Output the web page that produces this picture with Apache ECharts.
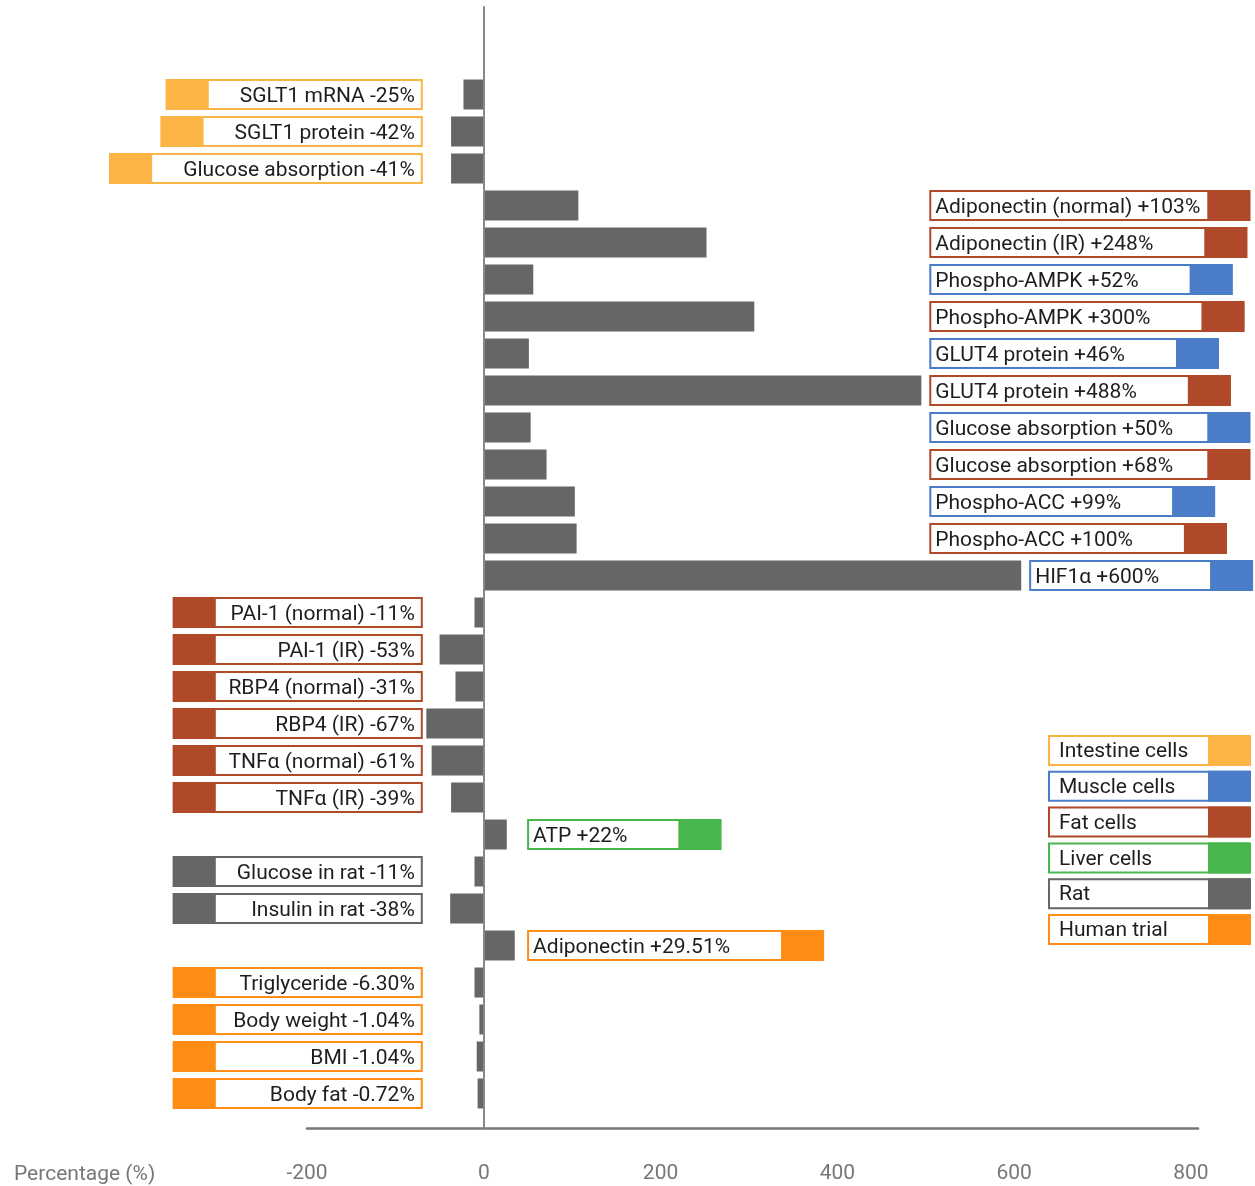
<!DOCTYPE html>
<html>
<head>
<meta charset="utf-8">
<script src="https://cdn.jsdelivr.net/npm/echarts@6/dist/echarts.min.js"></script>
<style>
  html, body { margin: 0; padding: 0; background: #fff; }
  #chart { width: 1255px; height: 1186px; }
</style>
</head>
<body>
<div id="chart"></div>
<script>
// row labels, top to bottom
var labels = [
  'SGLT1 mRNA -25%', 'SGLT1 protein -42%', 'Glucose absorption -41%',
  'Adiponectin (normal) +103%', 'Adiponectin (IR) +248%',
  'Phospho-AMPK +52%', 'Phospho-AMPK +300%',
  'GLUT4 protein +46%', 'GLUT4 protein +488%',
  'Glucose absorption +50%', 'Glucose absorption +68%',
  'Phospho-ACC +99%', 'Phospho-ACC +100%',
  'HIF1α +600%',
  'PAI-1 (normal) -11%', 'PAI-1 (IR) -53%',
  'RBP4 (normal) -31%', 'RBP4 (IR) -67%',
  'TNFα (normal) -61%', 'TNFα (IR) -39%',
  'ATP +22%',
  'Glucose in rat -11%', 'Insulin in rat -38%',
  'Adiponectin +29.51%',
  'Triglyceride -6.30%', 'Body weight -1.04%', 'BMI -1.04%', 'Body fat -0.72%'
]
// bar lengths as drawn in the picture
var barValues = [
  -23, -37, -37,
  107, 252,
  56, 306,
  51, 495,
  53, 71,
  103, 105,
  608,
  -10.5, -50,
  -32, -65,
  -59, -37,
  26,
  -10.5, -38,
  35,
  -10.5, -5, -8, -7
]
// 0 intestine, 1 muscle, 2 fat, 3 liver, 4 rat, 5 human
var groups = [
  0, 0, 0,
  2, 2, 1, 2, 1, 2, 1, 2, 1, 2, 1,
  2, 2, 2, 2, 2, 2,
  3,
  4, 4,
  5, 5, 5, 5, 5
]
var legendNames = ['Intestine cells', 'Muscle cells', 'Fat cells', 'Liver cells', 'Rat', 'Human trial']
var groupColors = ['#FDB446', '#4A7CC8', '#B0492A', '#48B64C', '#666666', '#FF8C14']
var xTicks = [-200, 0, 200, 400, 600, 800]

var FONT = '21px Roboto'
var ctx = document.createElement('canvas').getContext('2d')
ctx.font = FONT
function textW(t) { return ctx.measureText(t).width }

let myChart = echarts.init(document.getElementById('chart'))

function renderLabel(params, api) {
  var i = params.dataIndex
  var v = barValues[i]
  var g = groups[i]
  var color = groupColors[g]
  var text = labels[i]
  var cy = api.coord([0, i])[1]
  var h = 31
  var tw = textW(text)
  var left, width, sqX, tx, align
  if (v < 0) {
    // intestine boxes follow the text, the others keep one width
    width = g === 0 ? Math.max(250, tw + 82) : 250
    left = api.coord([-69, i])[0] - width
    sqX = left
    tx = left + width - 8
    align = 'right'
  } else {
    var anchor = (g === 3 || g === 5) ? 49 : Math.max(504, v + 9)
    width = Math.min(321, tw + 100)
    left = api.coord([anchor, i])[0]
    sqX = left + width - 43
    tx = left + 6
    align = 'left'
  }
  return {
    type: 'group',
    children: [
      {
        type: 'rect',
        shape: {x: left + 1, y: cy - h / 2 + 1, width: width - 2, height: h - 2},
        style: {fill: '#fff', stroke: color, lineWidth: 2}
      },
      {
        type: 'rect',
        shape: {x: sqX, y: cy - h / 2, width: 43, height: h},
        style: {fill: color}
      },
      {
        type: 'text',
        style: {
          x: tx, y: cy + 2, text: text, font: FONT, fill: '#1e1e1e',
          align: align, verticalAlign: 'middle'
        }
      }
    ]
  }
}

// legend boxes on the right
var legendGraphic = []
legendNames.forEach(function (name, k) {
  var top = 735 + k * 35.8
  legendGraphic.push({
    type: 'group',
    children: [
      {type: 'rect', shape: {x: 1049, y: top + 1, width: 200, height: 29}, style: {fill: '#fff', stroke: groupColors[k], lineWidth: 2}},
      {type: 'rect', shape: {x: 1208, y: top, width: 43, height: 31}, style: {fill: groupColors[k]}},
      {type: 'text', style: {x: 1059, y: top + 17, text: name, font: FONT, fill: '#1e1e1e', verticalAlign: 'middle'}}
    ]
  })
})

var option = {
  animation: false,
  title: {
    text: 'Percentage (%)',
    left: 9,
    top: 1159,
    textStyle: {fontFamily: 'Roboto', fontSize: 21, fontWeight: 'normal', color: '#777'}
  },
  grid: [
    {left: 307, right: 57, top: 76, bottom: 74},
    {left: 307, right: 57, top: 7, bottom: 58}
  ],
  xAxis: [
    {
      gridIndex: 0, type: 'value', min: -200, max: 808,
      show: false
    },
    {
      gridIndex: 1, type: 'value', min: -200, max: 808, interval: 200,
      axisLine: {show: true, onZero: false, lineStyle: {color: '#777', width: 2.5}},
      axisTick: {show: false},
      splitLine: {show: false},
      axisLabel: {
        margin: 35, fontFamily: 'Roboto', fontSize: 21, color: '#777',
        showMaxLabel: false,
        formatter: function (val) { return xTicks.indexOf(val) >= 0 ? String(val) : '' }
      }
    }
  ],
  yAxis: [
    {
      gridIndex: 0, type: 'category', inverse: true, data: labels,
      show: false
    },
    {
      gridIndex: 1, type: 'value', min: 0, max: 1, z: 10,
      axisLine: {show: true, onZero: true, lineStyle: {color: '#888', width: 2}},
      axisTick: {show: false},
      axisLabel: {show: false},
      splitLine: {show: false}
    }
  ],
  graphic: legendGraphic,
  series: [
    {
      type: 'bar',
      xAxisIndex: 0,
      yAxisIndex: 0,
      barWidth: 30,
      itemStyle: {color: '#666666'},
      data: barValues
    },
    {
      type: 'custom',
      xAxisIndex: 0,
      yAxisIndex: 0,
      z: 5,
      clip: false,
      renderItem: renderLabel,
      encode: {x: 0, y: 1},
      data: barValues.map(function (v, i) { return [v, i] })
    }
  ]
}
myChart.setOption(option)
</script>
</body>
</html>
